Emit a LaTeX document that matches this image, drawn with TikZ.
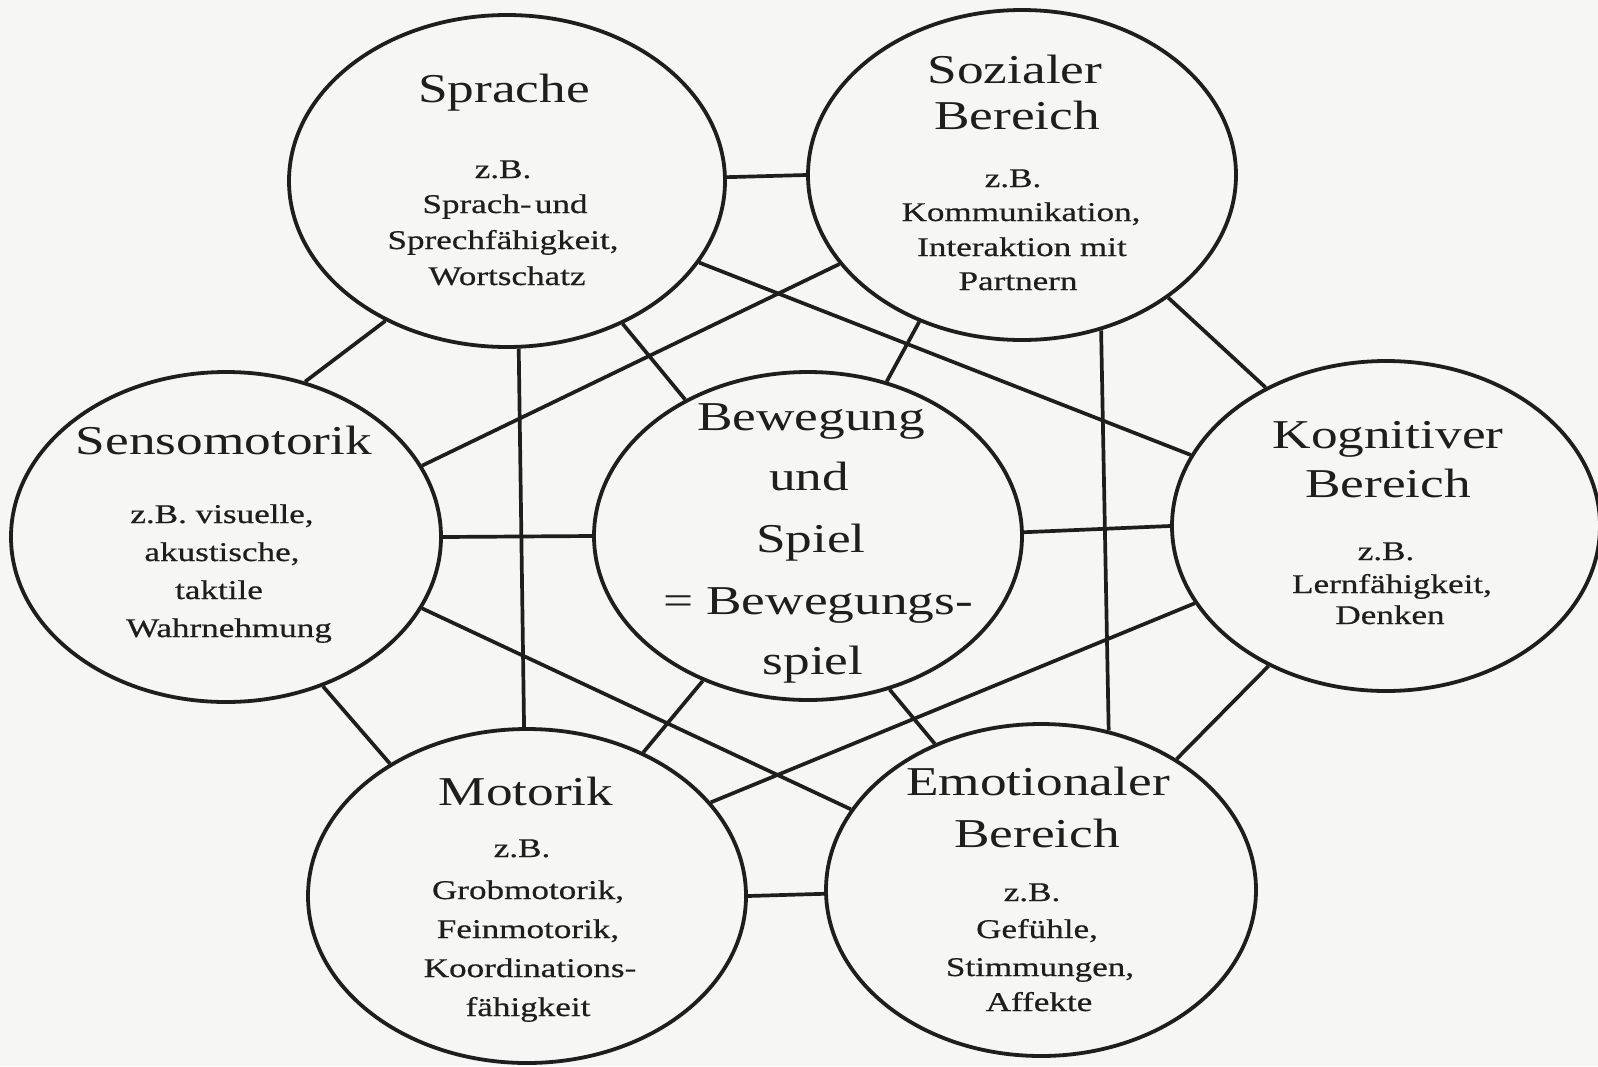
\documentclass[tikz,border=0pt]{standalone}
\usepackage{fontspec}
\setmainfont{Liberation Serif}
\newfontfamily\wideserif[FakeStretch=1.3]{Liberation Serif}
\newfontfamily\widebody[FakeStretch=1.3,FakeBold=0.6]{Liberation Serif}
\usetikzlibrary{shapes.geometric}
\definecolor{paper}{RGB}{246,246,244}
\definecolor{ink}{RGB}{30,30,30}
\begin{document}
\begin{tikzpicture}[x=1pt,y=-1pt,
  bubble/.style={ellipse, draw=ink, line width=3.8pt, inner sep=0pt},
  link/.style={draw=ink, line width=3.7pt},
  ttl/.style={anchor=base, inner sep=0pt, text=ink, font=\wideserif\fontsize{41}{48}\selectfont},
  body/.style={anchor=base, inner sep=0pt, text=ink, font=\widebody\fontsize{27}{32}\selectfont}]
\fill[paper] (0,0) rectangle (1598,1066);
\useasboundingbox (0,0) rectangle (1598,1066);

% ellipses
\node[bubble, minimum width=436pt, minimum height=332pt] (spr) at (507,181) {};
\node[bubble, minimum width=428pt, minimum height=330pt] (soz) at (1022,175) {};
\node[bubble, minimum width=430pt, minimum height=330pt] (sen) at (226,537) {};
\node[bubble, minimum width=428pt, minimum height=328pt] (cen) at (808,536) {};
\node[bubble, minimum width=428pt, minimum height=330pt] (kog) at (1386,526) {};
\node[bubble, minimum width=438pt, minimum height=334pt] (mot) at (527,896) {};
\node[bubble, minimum width=430pt, minimum height=332pt] (emo) at (1041,890) {};

% connectors
\draw[link] (spr.1.3) -- (soz.180.3);
\draw[link] (spr.-131.5) -- (sen.63);
\draw[link] (spr.-51.7) -- (cen.132.3);
\draw[link] (spr.-86.6) -- (mot.91.7);
\draw[link] (spr.-23.1) -- (kog.160.8);
\draw[link] (soz.-154.2) -- (sen.20);
\draw[link] (soz.-125.9) -- (cen.63.9);
\draw[link] (soz.-63.7) -- (emo.67.5);
\draw[link] (soz.-40.6) -- (kog.131.4);
\draw[link] (sen.-0.3) -- (cen.180);
\draw[link] (sen.-57.2) -- (mot.136.7);
\draw[link] (sen.-20.2) -- (emo.157.1);
\draw[link] (cen.1.6) -- (kog.180.8);
\draw[link] (cen.-126.9) -- (mot.51.9);
\draw[link] (cen.-62.1) -- (emo.126.3);
\draw[link] (kog.-158.1) -- (mot.27.8);
\draw[link] (kog.-130.3) -- (emo.44.1);
\draw[link] (mot.0) -- (emo.181.6);

% Sprache
\node[ttl] (sprT) at (504,102) {Sprache};
\node[body] (sprA) at (503,178) {z.B.};
\node[body] (sprB) at (505,213) {Sprach-\hspace{0.12em}und};
\node[body] (sprC) at (503,249) {Sprechfähigkeit,};
\node[body] (sprD) at (507,285) {Wortschatz};

% Sozialer Bereich
\node[ttl] (sozT1) at (1015,83) {Sozialer};
\node[ttl] (sozT2) at (1017,129) {Bereich};
\node[body] (sozA) at (1013,187) {z.B.};
\node[body] (sozB) at (1021,221) {Kommunikation,};
\node[body] (sozC) at (1022,256) {Interaktion mit};
\node[body] (sozD) at (1018,290) {Partnern};

% Sensomotorik
\node[ttl] (senT) at (224,454) {Sensomotorik};
\node[body] (senA) at (222,523) {z.B. visuelle,};
\node[body] (senB) at (222,561) {akustische,};
\node[body] (senC) at (219,599) {taktile};
\node[body] (senD) at (229,637) {Wahrnehmung};

% centre
\node[ttl] (cenA) at (811,430) {Bewegung};
\node[ttl] (cenB) at (809,490) {und};
\node[ttl] (cenC) at (811,552) {Spiel};
\node[ttl] (cenD) at (818,614) {= Bewegungs-};
\node[ttl] (cenE) at (813,674) {spiel};

% Kognitiver Bereich
\node[ttl] (kogT1) at (1388,448) {Kognitiver};
\node[ttl] (kogT2) at (1388,497) {Bereich};
\node[body] (kogA) at (1386,560) {z.B.};
\node[body] (kogB) at (1392,593) {Lernfähigkeit,};
\node[body] (kogC) at (1390,624) {Denken};

% Motorik
\node[ttl] (motT) at (526,805) {Motorik};
\node[body] (motA) at (522,857) {z.B.};
\node[body] (motB) at (528,899) {Grobmotorik,};
\node[body] (motC) at (528,938) {Feinmotorik,};
\node[body] (motD) at (530,977) {Koordinations-};
\node[body] (motE) at (528,1016) {fähigkeit};

% Emotionaler Bereich
\node[ttl] (emoT1) at (1038,795) {Emotionaler};
\node[ttl] (emoT2) at (1037,847) {Bereich};
\node[body] (emoA) at (1032,901) {z.B.};
\node[body] (emoB) at (1037,938) {Gefühle,};
\node[body] (emoC) at (1040,976) {Stimmungen,};
\node[body] (emoD) at (1039,1011) {Affekte};
\end{tikzpicture}
\end{document}
